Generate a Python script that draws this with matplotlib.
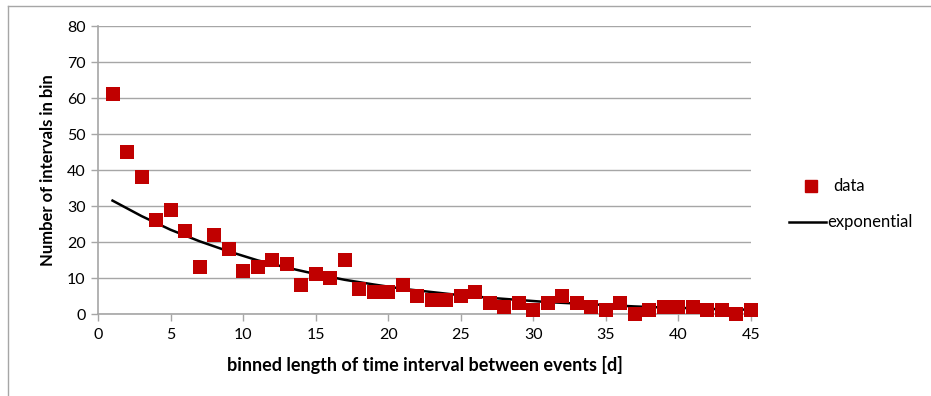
import matplotlib
matplotlib.use("Agg")
import matplotlib.pyplot as plt
from matplotlib.lines import Line2D

plt.rcParams['font.family'] = ['Lato', 'DejaVu Sans']

# data
bins = list(range(1, 46))
counts = [61, 45, 38, 26, 29, 23, 13, 22, 18, 12,
          13, 15, 14, 8, 11, 10, 15, 7, 6, 6,
          8, 5, 4, 4, 5, 6, 3, 2, 3, 1,
          3, 5, 3, 2, 1, 3, 0, 1, 2, 2,
          2, 1, 1, 0, 1]

# exponential curve
exp_x = [1, 3, 5, 7, 9, 11, 13, 15, 17, 19, 21, 23, 25, 27, 29, 31, 33, 35, 37, 39, 41, 43, 45]
exp_y = [31.5, 27.2, 23.4, 20.2, 17.4, 14.9, 12.9, 11.1, 9.5, 8.2, 7.0, 6.1, 5.2,
         4.5, 3.9, 3.3, 2.9, 2.5, 2.1, 1.8, 1.6, 1.3, 1.2]

x_ticks = [0, 5, 10, 15, 20, 25, 30, 35, 40, 45]
y_ticks = [0, 10, 20, 30, 40, 50, 60, 70, 80]

W, H = 931, 396
fig = plt.figure(figsize=(W / 100, H / 100), dpi=100)
ax = fig.add_axes([98 / W, 1 - 314 / H, (751 - 98) / W, (314 - 26) / H])

grid_c = '#A6A6A6'
red = '#C00000'
fs = 11.5

ax.set_xlim(0, 45)
ax.set_ylim(0, 80)
ax.set_xticks(x_ticks)
ax.set_yticks(y_ticks)
ax.yaxis.grid(True, color=grid_c, linewidth=1.0)
ax.set_axisbelow(True)

for s in ['top', 'right']:
    ax.spines[s].set_visible(False)
for s in ['left', 'bottom']:
    ax.spines[s].set_color(grid_c)
    ax.spines[s].set_linewidth(1.2)
ax.tick_params(axis='both', colors=grid_c, length=5, width=1, direction='out',
               labelcolor='black', labelsize=fs)
ax.tick_params(axis='x', pad=5)
ax.tick_params(axis='y', pad=4)

ax.plot(exp_x, exp_y, color='black', linewidth=1.8, zorder=3, clip_on=False)
ax.scatter(bins, counts, marker='s', s=110, color=red, zorder=4, clip_on=False,
           linewidths=0)

ax.set_ylabel('Number of intervals in bin', fontsize=12, fontweight='bold', labelpad=8)
ax.set_xlabel('binned length of time interval between events [d]', fontsize=13,
              fontweight='bold', labelpad=10)

# legend
fig.lines.append(Line2D([811 / W], [1 - 186 / H], marker='s', markersize=9,
                        color=red, linestyle='none', transform=fig.transFigure))
fig.text(833 / W, 1 - 186 / H, 'data', fontsize=12, va='center', ha='left')
fig.lines.append(Line2D([789 / W, 826 / W], [1 - 222 / H, 1 - 222 / H], color='black',
                        linewidth=1.8, transform=fig.transFigure))
fig.text(827 / W, 1 - 222 / H, 'exponential', fontsize=12, va='center', ha='left')

# chart frame (cropped)
frame_c = '#A6A6A6'
fig.lines.append(Line2D([7.5 / W, 7.5 / W], [0, 1 - 6 / H], color=frame_c, linewidth=1,
                        transform=fig.transFigure))
fig.lines.append(Line2D([7.5 / W, 1], [1 - 6 / H, 1 - 6 / H], color=frame_c, linewidth=1,
                        transform=fig.transFigure))

fig.savefig('out.png', dpi=100)
